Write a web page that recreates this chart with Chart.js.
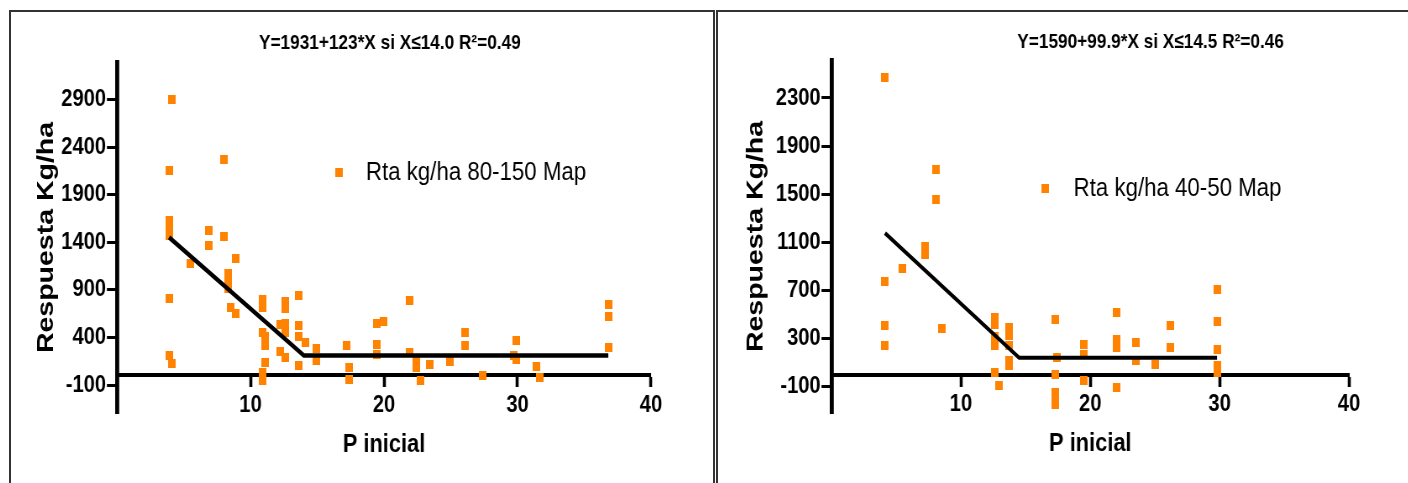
<!DOCTYPE html>
<html>
<head>
<meta charset="utf-8">
<script src="https://cdn.jsdelivr.net/npm/chart.js@4"></script>
<style>
  html, body { margin: 0; padding: 0; background: #fff; overflow: hidden; }
  body { width: 1408px; height: 483px; position: relative; }
  .panel { position: absolute; top: 10px; height: 520px; border: 2px solid #333; box-sizing: border-box; }
  #panel-left { left: 9px; width: 706px; }
  #panel-right { left: 716px; width: 720px; }
  /* the exported figure is horizontally compressed, so is this one */
  canvas { position: absolute; top: 12px; transform: scaleX(0.84); transform-origin: 0 0; }
  #chart-left { left: 11px; }
  #chart-right { left: 718px; }
</style>
</head>
<body>
<div class="panel" id="panel-left"></div>
<div class="panel" id="panel-right"></div>
<canvas id="chart-left" width="835" height="471"></canvas>
<canvas id="chart-right" width="822" height="471"></canvas>
<script>
/* respuesta a P segun P inicial, dos dosis de MAP */

// 80-150 kg/ha MAP
const p80Label = 'Rta kg/ha 80-150 Map';
const p80Title = 'Y=1931+123*X si X≤14.0 R²=0.49';
const p80X = [4.1, 3.9, 8.0, 3.9, 3.9, 3.9, 6.9, 6.9, 8.0, 8.9, 5.5, 8.3, 8.3, 8.3, 3.9, 8.5, 8.9, 3.9, 4.1,
    10.9, 10.9, 10.9, 11.1, 11.1, 11.1, 10.9, 10.9, 12.6, 12.6, 12.2, 12.6, 12.6, 12.2, 12.6,
    13.6, 13.6, 13.6, 14.1, 13.6, 14.95, 14.95, 17.2, 17.4, 17.4, 19.45, 19.95, 19.45, 19.45,
    21.9, 21.9, 22.45, 22.45, 22.75, 23.45, 24.95, 26.1, 26.1, 27.4, 29.9, 29.7, 29.9, 31.4, 31.7,
    36.8, 36.8, 36.8];
const p80Y = [2900, 2150, 2270, 1630, 1530, 1470, 1520, 1370, 1460, 1230, 1180, 1070, 990, 910, 810, 710, 650, 205, 130,
    800, 710, 450, 410, 310, 135, 30, -55, 780, 700, 540, 550, 450, 250, 190,
    840, 520, 410, 345, 100, 280, 160, 310, 80, -40, 550, 570, 330, 225,
    785, 240, 155, 85, -55, 120, 150, 450, 310, 5, 370, 210, 170, 95, -20,
    745, 620, 295];
// recta con meseta: 1931 - 123*X hasta X=14.0
const p80FitX = [3.9, 14.0, 36.8];
const p80FitY = [1451, 209, 209];
const p80YTicks = [-100, 400, 900, 1400, 1900, 2400, 2900];

// 40-50 kg/ha MAP
const p40Label = 'Rta kg/ha 40-50 Map';
const p40Title = 'Y=1590+99.9*X si X≤14.5 R²=0.46';
const p40X = [4.13, 8.05, 8.05, 7.25, 7.25, 5.5, 4.13, 4.13, 4.13, 8.5,
    12.6, 12.6, 12.6, 12.6, 13.7, 13.7, 13.7, 13.7, 13.7, 12.6, 12.97,
    17.3, 17.4, 17.3, 17.3, 17.3, 17.3, 19.5, 19.5, 19.5, 22.0, 22.0, 22.0, 22.0,
    23.5, 23.5, 25.0, 26.2, 26.2, 29.8, 29.8, 29.8, 29.8, 29.8];
const p40Y = [2467, 1706, 1457, 1070, 1000, 882, 779, 406, 246, 389,
    480, 420, 320, 240, 393, 323, 240, 115, 74, 19, -92,
    461, 140, 5, -150, -195, -250, 254, 171, -50, 517, 295, 227, -105,
    268, 115, 88, 406, 227, 710, 447, 212, 74, 20];
// 1590 - 99.9*X hasta X=14.5
const p40FitX = [4.13, 14.5, 29.8];
const p40FitY = [1177, 141.5, 141.5];
const p40YTicks = [-100, 300, 700, 1100, 1500, 1900, 2300];

const xTicks = [10, 20, 30, 40];

const sans = "'Liberation Sans', Arial, sans-serif";

// marcador naranja
const marker = document.createElement('canvas');
marker.width = 9;
marker.height = 9;
const mctx = marker.getContext('2d');
mctx.fillStyle = '#ff8200';
mctx.fillRect(0, 0, 9, 9);

function toPoints(xs, ys) {
    return xs.map((x, i) => ({ x: x, y: ys[i] }));
}

// titulo con la ecuacion y leyenda dentro del grafico
const panelText = {
    id: 'panelText',
    afterDraw(chart, args, opts) {
        const ctx = chart.ctx;
        const ds = chart.data.datasets[0];
        ctx.save();
        ctx.fillStyle = '#000';
        ctx.textBaseline = 'middle';
        ctx.textAlign = 'center';
        ctx.font = 'bold 20.5px ' + sans;
        ctx.fillText(opts.title, opts.titleX, opts.titleY);
        ctx.drawImage(ds.pointStyle, opts.legendX - ds.pointStyle.width / 2, opts.legendY - ds.pointStyle.height / 2);
        ctx.textAlign = 'left';
        ctx.font = '26.5px ' + sans;
        ctx.fillText(ds.label, opts.legendX + opts.legendGap, opts.legendY + 1);
        ctx.restore();
    }
};

function makeChart(id, cfg) {
    return new Chart(document.getElementById(id).getContext('2d'), {
        type: 'scatter',
        data: {
            datasets: [
                {
                    label: cfg.label,
                    data: toPoints(cfg.xs, cfg.ys),
                    pointStyle: marker,
                    pointRadius: 4,
                    order: 1
                },
                {
                    type: 'line',
                    label: 'ajuste',
                    data: toPoints(cfg.fitX, cfg.fitY),
                    borderColor: '#000',
                    borderWidth: cfg.lineWidth,
                    pointRadius: 0,
                    fill: false,
                    order: 0
                }
            ]
        },
        options: {
            responsive: false,
            animation: false,
            layout: { padding: cfg.padding },
            plugins: {
                legend: { display: false },
                tooltip: { enabled: false },
                panelText: cfg.text
            },
            scales: {
                x: {
                    type: 'linear',
                    min: 0,
                    max: 40,
                    position: { y: 0 },
                    afterBuildTicks: s => { s.ticks = xTicks.map(v => ({ value: v })); },
                    afterFit: s => { s.height = 85; },
                    grid: { drawOnChartArea: false, tickLength: 10, tickWidth: 3.6, tickColor: '#000' },
                    border: { display: true, color: '#000', width: 4 },
                    ticks: {
                        color: '#000',
                        padding: 5,
                        font: { family: sans, size: 24, weight: 'bold' },
                        callback: v => String(v)
                    },
                    title: {
                        display: true,
                        text: 'P inicial',
                        color: '#000',
                        font: { family: sans, size: 26, weight: 'bold', lineHeight: 1.2 },
                        padding: { top: 0, bottom: 0 }
                    }
                },
                y: {
                    type: 'linear',
                    min: cfg.yMin,
                    max: cfg.yMax,
                    afterBuildTicks: s => { s.ticks = cfg.yTicks.map(v => ({ value: v })); },
                    afterFit: s => { s.width = cfg.yWidth; },
                    grid: { drawOnChartArea: false, tickLength: 12, tickWidth: 3, tickColor: '#000' },
                    border: { display: true, color: '#000', width: 4.8 },
                    ticks: {
                        color: '#000',
                        padding: 1,
                        font: { family: sans, size: 24, weight: 'bold' },
                        callback: v => String(v)
                    },
                    title: {
                        display: true,
                        text: 'Respuesta Kg/ha',
                        color: '#000',
                        font: { family: sans, size: 28.5, weight: 'bold', lineHeight: 1.2 },
                        padding: { top: 0, bottom: 0 }
                    }
                }
            }
        },
        plugins: [panelText]
    });
}

makeChart('chart-left', {
    label: p80Label,
    xs: p80X, ys: p80Y,
    fitX: p80FitX, fitY: p80FitY,
    yTicks: p80YTicks,
    yMin: -394, yMax: 3293,
    yWidth: 101,
    lineWidth: 4.5,
    padding: { left: 25.2, top: 50, right: 73.1, bottom: 70 },
    text: { title: p80Title, titleX: 451, titleY: 31, legendX: 390.5, legendY: 160, legendGap: 32 }
});

makeChart('chart-right', {
    label: p40Label,
    xs: p40X, ys: p40Y,
    fitX: p40FitX, fitY: p40FitY,
    yTicks: p40YTicks,
    yMin: -317, yMax: 2615,
    yWidth: 107.5,
    lineWidth: 4,
    padding: { left: 27.7, top: 48, right: 70.8, bottom: 70 },
    text: { title: p40Title, titleX: 515, titleY: 30, legendX: 389.3, legendY: 176, legendGap: 34 }
});
</script>
</body>
</html>
